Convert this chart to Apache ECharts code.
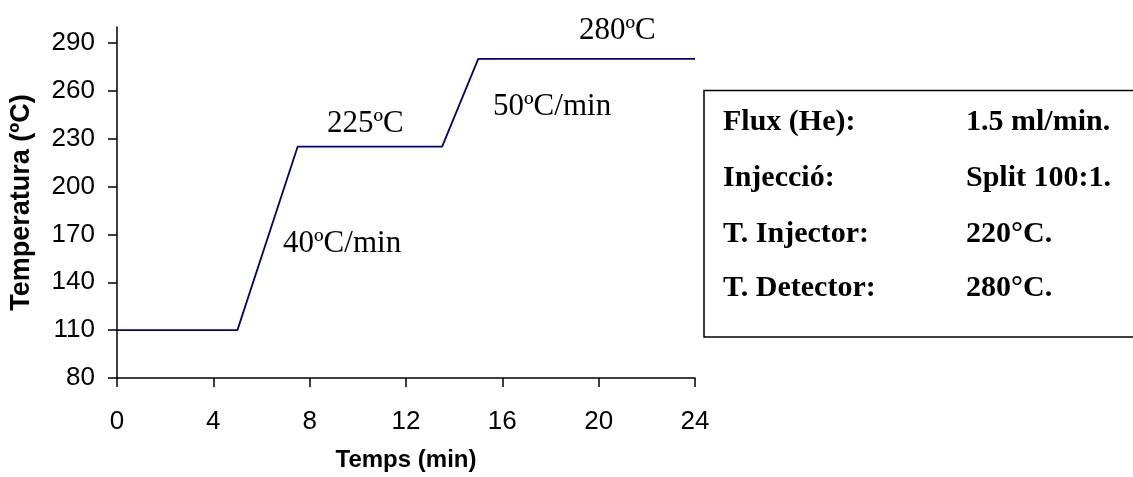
<!DOCTYPE html>
<html>
<head>
<meta charset="utf-8">
<title>Programa de temperatura</title>
<script src="https://cdn.jsdelivr.net/npm/echarts@6/dist/echarts.min.js"></script>
<style>
  html, body { margin: 0; padding: 0; background: #ffffff; }
  #chart { width: 1133px; height: 477px; }
</style>
</head>
<body>
<div id="chart"></div>
<script>
// Oven temperature programme: time (min) against temperature (ºC)
const timeMin = [0, 5, 7.5, 13.5, 15, 24];
const tempC = [110, 110, 225, 225, 280, 280];

// Axis ticks
const xTicks = [0, 4, 8, 12, 16, 20, 24];
const yTicks = [80, 110, 140, 170, 200, 230, 260, 290];

// Annotations on the ramp / plateaus
const stepLabels = ['280ºC', '225ºC', '50ºC/min', '40ºC/min'];

// Instrument conditions shown in the side box
const condNames = ['Flux (He):', 'Injecció:', 'T. Injector:', 'T. Detector:'];
const condValues = ['1.5 ml/min.', 'Split 100:1.', '220°C.', '280°C.'];

const chart = echarts.init(document.getElementById('chart'), null, { renderer: 'canvas' });

const sans = 'Liberation Sans, Arial, sans-serif';
const serif = 'Liberation Serif, Times New Roman, serif';

const gridLeft = 117, gridRight = 438, gridTop = 27, gridBottom = 99;

const annotPos = [
  { x: 579, y: 31 },
  { x: 327, y: 124 },
  { x: 493, y: 107 },
  { x: 283, y: 244 }
];
const rowY = [122.5, 178, 234, 288];

const graphics = [];
stepLabels.forEach((t, i) => {
  graphics.push({
    type: 'text', x: annotPos[i].x, y: annotPos[i].y, silent: true,
    style: { text: t, font: '31px ' + serif, fill: '#000', verticalAlign: 'middle', align: 'left' }
  });
});
graphics.push({
  type: 'rect', silent: true,
  shape: { x: 704, y: 90.5, width: 440, height: 246.5 },
  style: { fill: '#fff', stroke: '#000', lineWidth: 1.5 }
});
condNames.forEach((t, i) => {
  graphics.push({
    type: 'text', x: 723, y: rowY[i], silent: true,
    style: { text: t, font: 'bold 30px ' + serif, fill: '#000', verticalAlign: 'middle', align: 'left' }
  });
  graphics.push({
    type: 'text', x: 966, y: rowY[i], silent: true,
    style: { text: condValues[i], font: 'bold 30px ' + serif, fill: '#000', verticalAlign: 'middle', align: 'left' }
  });
});

chart.setOption({
  animation: false,
  backgroundColor: '#ffffff',
  grid: {
    left: gridLeft, right: gridRight, top: gridTop, bottom: gridBottom,
    containLabel: false, outerBoundsMode: 'none'
  },
  xAxis: {
    type: 'value',
    min: 0, max: 24, interval: 4,
    name: 'Temps (min)',
    nameLocation: 'middle',
    nameGap: 70,
    nameTextStyle: { fontFamily: sans, fontSize: 24, fontWeight: 'bold', color: '#000' },
    axisLine: { show: true, onZero: false, lineStyle: { color: '#000', width: 1.5 } },
    axisTick: { show: true, inside: false, length: 9, lineStyle: { color: '#000', width: 1.5 }, customValues: xTicks },
    axisLabel: { fontFamily: sans, fontSize: 26, color: '#000', margin: 31, customValues: xTicks },
    splitLine: { show: false }
  },
  yAxis: {
    type: 'value',
    min: 80, max: 300,
    name: 'Temperatura (ºC)',
    nameLocation: 'middle',
    nameGap: 82,
    nameRotate: 90,
    nameTextStyle: { fontFamily: sans, fontSize: 27, fontWeight: 'bold', color: '#000' },
    axisLine: { show: true, onZero: false, lineStyle: { color: '#000', width: 1.5 } },
    axisTick: { show: true, inside: false, length: 9, lineStyle: { color: '#000', width: 1.5 }, customValues: yTicks },
    axisLabel: { fontFamily: sans, fontSize: 26, color: '#000', margin: 22, customValues: yTicks },
    splitLine: { show: false }
  },
  series: [{
    type: 'line',
    data: timeMin.map((t, i) => [t, tempC[i]]),
    symbol: 'none',
    lineStyle: { color: '#000080', width: 1.8 },
    clip: false
  }],
  graphic: graphics
});
</script>
</body>
</html>
